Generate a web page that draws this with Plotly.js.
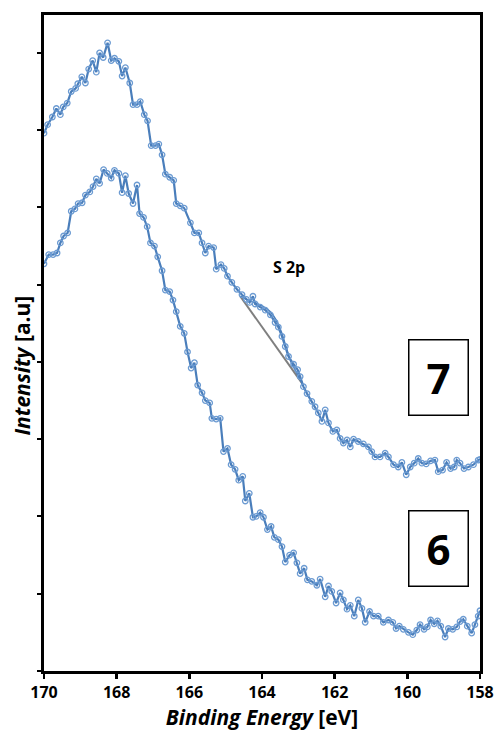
<!DOCTYPE html>
<html>
<head>
<meta charset="utf-8">
<script src="https://cdn.plot.ly/plotly-3.0.1.min.js"></script>
<style>html,body{margin:0;padding:0;background:#fff;}#chart{width:497px;height:740px;}</style>
</head>
<body>
<div id="chart"></div>
<script>
// Sample 7 (upper spectrum)
const energy7 = [170.00,169.90,169.77,169.66,169.55,169.47,169.36,169.25,169.13,169.07,168.96,168.86,168.77,168.66,168.56,168.47,168.37,168.25,168.15,168.06,167.94,167.85,167.76,167.64,167.55,167.44,167.35,167.24,167.15,167.05,166.93,166.84,166.75,166.66,166.54,166.43,166.36,166.25,166.14,165.97,165.86,165.74,165.65,165.56,165.47,165.33,165.26,165.13,165.04,164.95,164.83,164.69,164.55,164.43,164.34,164.25,164.19,164.05,163.91,163.77,163.64,163.55,163.45,163.36,163.27,163.13,163.02,162.95,162.86,162.76,162.63,162.54,162.45,162.35,162.26,162.17,162.05,161.94,161.85,161.76,161.66,161.57,161.48,161.35,161.21,161.07,160.98,160.89,160.75,160.61,160.52,160.38,160.25,160.15,160.03,159.92,159.81,159.70,159.60,159.48,159.36,159.24,159.15,159.03,158.92,158.81,158.71,158.64,158.55,158.44,158.32,158.18,158.05,158.00];
const intensity7 = [6.96,7.07,7.17,7.28,7.20,7.30,7.35,7.50,7.54,7.60,7.69,7.61,7.79,7.90,7.75,8.00,7.94,8.13,7.90,7.93,7.89,7.70,7.81,7.61,7.33,7.33,7.37,7.20,7.12,6.80,6.80,6.82,6.68,6.43,6.39,6.35,6.05,6.02,5.99,5.80,5.67,5.67,5.54,5.41,5.50,5.48,5.20,5.26,5.21,5.11,5.03,4.94,4.87,4.81,4.77,4.85,4.75,4.71,4.67,4.61,4.51,4.45,4.33,4.20,4.07,3.97,3.90,3.81,3.68,3.59,3.49,3.42,3.34,3.23,3.38,3.21,3.10,3.12,3.01,2.95,2.99,2.90,3.00,2.97,2.94,2.90,2.84,2.77,2.77,2.82,2.77,2.67,2.64,2.70,2.54,2.64,2.69,2.75,2.69,2.68,2.72,2.73,2.58,2.60,2.70,2.62,2.64,2.73,2.69,2.62,2.64,2.67,2.73,2.74];

// Sample 6 (lower spectrum)
const energy6 = [170.00,169.87,169.75,169.64,169.55,169.46,169.35,169.25,169.15,169.06,168.95,168.86,168.74,168.65,168.56,168.47,168.36,168.26,168.15,168.06,167.94,167.85,167.76,167.67,167.55,167.44,167.37,167.26,167.16,167.07,166.96,166.87,166.75,166.66,166.54,166.45,166.36,166.25,166.14,166.05,165.95,165.86,165.77,165.65,165.56,165.44,165.38,165.26,165.15,165.06,164.95,164.85,164.74,164.64,164.53,164.46,164.35,164.25,164.16,164.05,163.96,163.85,163.75,163.66,163.55,163.45,163.36,163.24,163.13,163.04,162.95,162.84,162.75,162.63,162.49,162.40,162.26,162.17,162.08,161.96,161.85,161.76,161.66,161.57,161.46,161.35,161.25,161.16,161.04,160.93,160.80,160.66,160.52,160.40,160.31,160.22,160.11,159.97,159.85,159.74,159.65,159.54,159.45,159.36,159.26,159.17,159.08,158.96,158.87,158.75,158.64,158.55,158.46,158.35,158.23,158.14,158.05,158.00];
const intensity6 = [5.27,5.39,5.39,5.41,5.54,5.63,5.67,5.95,5.98,6.05,6.06,6.16,6.20,6.27,6.37,6.31,6.49,6.44,6.38,6.48,6.44,6.19,6.41,6.18,6.05,6.29,5.92,5.87,5.75,5.54,5.50,5.36,5.18,4.93,4.91,4.80,4.65,4.46,4.37,4.13,3.92,3.99,3.70,3.60,3.50,3.47,3.27,3.26,3.27,2.84,2.88,2.67,2.61,2.47,2.52,2.20,2.30,1.99,2.00,2.05,1.99,1.83,1.87,1.73,1.70,1.61,1.41,1.50,1.53,1.40,1.26,1.33,1.18,1.16,1.11,1.19,0.96,1.10,1.03,0.88,1.01,0.92,0.80,0.85,0.71,0.92,0.81,0.63,0.77,0.71,0.71,0.63,0.66,0.63,0.55,0.58,0.54,0.50,0.47,0.53,0.60,0.54,0.57,0.66,0.61,0.65,0.58,0.44,0.55,0.54,0.57,0.64,0.67,0.58,0.49,0.60,0.71,0.78];

// S 2p fit envelope and linear background on sample 7
const fitEnergy = [164.60,164.38,164.16,163.94,163.77,163.61,163.47,163.33,163.20,163.06,162.89];
const fitIntensity = [4.85,4.80,4.76,4.71,4.65,4.54,4.39,4.18,4.00,3.87,3.72];
const bgEnergy = [164.60,162.89];
const bgIntensity = [4.85,3.72];

const xTicks = [170,168,166,164,162,160,158];
const sampleLabels = ['7','6'];
const peakLabel = 'S 2p';

const blue = '#4A7EBB';
const markerStyle = {symbol:'circle-open', size:5.5, color:'#6C9BD2', line:{width:1.3, color:'#6C9BD2'}};

const traces = [
  {x:bgEnergy, y:bgIntensity, mode:'lines', line:{color:'#7F7F7F', width:2}, hoverinfo:'skip', showlegend:false},
  {x:fitEnergy, y:fitIntensity, mode:'lines', line:{color:blue, width:1.6, shape:'spline'}, showlegend:false},
  {x:energy7, y:intensity7, mode:'lines+markers', name:'7', line:{color:blue, width:2.2}, marker:markerStyle, showlegend:false},
  {x:energy6, y:intensity6, mode:'lines+markers', name:'6', line:{color:blue, width:2.2}, marker:markerStyle, showlegend:false}
];

const fontFam = '"Open Sans", Lato, sans-serif';

function boxLabel(txt, yc) {
  return {xref:'paper', yref:'paper', x:0.904, y:yc, xanchor:'center', yanchor:'middle',
    text:txt, showarrow:false, width:58, height:74, align:'center', valign:'middle',
    bordercolor:'#000', borderwidth:1.5, borderpad:0, bgcolor:'#fff',
    font:{family:fontFam, size:42, weight:'bold', color:'#000'}};
}

const layout = {
  width:497, height:740,
  margin:{l:44, r:17, t:15, b:69},
  paper_bgcolor:'#fff', plot_bgcolor:'#fff',
  font:{family:fontFam, color:'#000'},
  xaxis:{
    range:[170,158], tickvals:xTicks, ticktext:xTicks.map(String),
    showgrid:false, zeroline:false,
    showline:true, linecolor:'#000', linewidth:3, mirror:true,
    ticks:'outside', ticklen:5, tickwidth:2.5, tickcolor:'#000',
    tickfont:{family:fontFam, size:16, weight:'bold', color:'#000'},
    title:{text:'<i>Binding Energy</i> [eV]', font:{family:fontFam, size:21, weight:'bold', color:'#000'}, standoff:8}
  },
  yaxis:{
    range:[0,8.49], dtick:1, tick0:0,
    showticklabels:false, showgrid:false, zeroline:false,
    showline:true, linecolor:'#000', linewidth:3, mirror:true,
    ticks:'outside', ticklen:4, tickwidth:2, tickcolor:'#000'
  },
  annotations:[
    boxLabel(sampleLabels[0], 0.447),
    boxLabel(sampleLabels[1], 0.1875),
    {xref:'paper', yref:'paper', x:0.561, y:0.616, text:peakLabel, showarrow:false, font:{family:fontFam, size:16, weight:'bold', color:'#000'}},
    {xref:'paper', yref:'paper', x:-0.0505, y:0.4655, xanchor:'center', yanchor:'middle', textangle:-90,
     text:'<i>Intensity</i> [a.u]', showarrow:false, font:{family:fontFam, size:21, weight:'bold', color:'#000'}}
  ]
};

Plotly.newPlot('chart', traces, layout, {staticPlot:true, displayModeBar:false});
</script>
</body>
</html>
